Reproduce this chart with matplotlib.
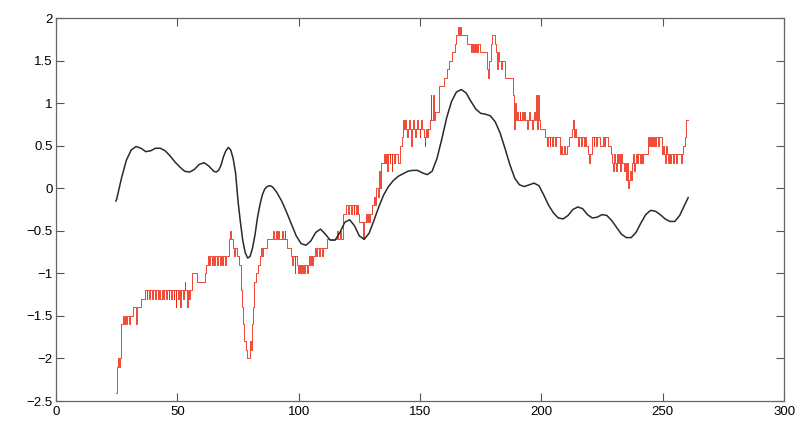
import numpy as np
import matplotlib
matplotlib.use("Agg")
import matplotlib.pyplot as plt
from matplotlib.ticker import FuncFormatter

plt.rcParams['font.family'] = ['Liberation Sans', 'DejaVu Sans']

# smooth (black) series: (x, y)
black_pts = [
    (24.7, -0.15), (25, -0.13), (27, 0.12), (29, 0.33), (31, 0.45), (33, 0.49), (35, 0.47),
    (37, 0.43), (39, 0.44), (41, 0.47), (43, 0.47), (45, 0.44), (47, 0.38), (49, 0.31),
    (51, 0.25), (53, 0.20), (55, 0.19), (57, 0.22), (59, 0.28), (61, 0.30), (63, 0.26),
    (65, 0.20), (66, 0.19), (67, 0.21), (68, 0.27), (69, 0.37), (70, 0.44), (71, 0.48),
    (72, 0.45), (73, 0.35), (74, 0.18), (75, -0.15), (76, -0.40), (77, -0.62), (78, -0.76),
    (79, -0.82), (80, -0.80), (81, -0.70), (82, -0.55), (83, -0.35), (84, -0.20), (85, -0.08),
    (86, -0.01), (87, 0.02), (88, 0.03), (89, 0.02), (90, -0.01), (91, -0.05), (93, -0.15),
    (95, -0.28), (97, -0.42), (99, -0.56), (101, -0.65), (103, -0.67), (105, -0.62),
    (107, -0.52), (109, -0.48), (111, -0.54), (113, -0.61), (115, -0.61), (117, -0.52),
    (119, -0.40), (121, -0.37), (123, -0.44), (125, -0.56), (127, -0.60), (129, -0.53),
    (131, -0.38), (133, -0.22), (135, -0.08), (137, 0.02), (139, 0.09), (141, 0.14),
    (143, 0.17), (145, 0.20), (147, 0.21), (149, 0.21), (151, 0.18), (153, 0.16), (155, 0.20),
    (157, 0.35), (159, 0.58), (161, 0.83), (163, 1.02), (165, 1.13), (167, 1.16), (169, 1.12),
    (171, 1.02), (173, 0.93), (175, 0.88), (177, 0.87), (179, 0.85), (181, 0.78), (183, 0.65),
    (185, 0.47), (187, 0.28), (189, 0.12), (191, 0.04), (193, 0.02), (195, 0.04), (197, 0.06),
    (199, 0.03), (201, -0.08), (203, -0.20), (205, -0.29), (207, -0.35), (209, -0.36),
    (211, -0.32), (213, -0.25), (215, -0.22), (217, -0.24), (219, -0.31), (221, -0.35),
    (223, -0.34), (225, -0.31), (227, -0.32), (229, -0.38), (231, -0.46), (233, -0.54),
    (235, -0.58), (237, -0.58), (239, -0.52), (241, -0.41), (243, -0.31), (245, -0.26),
    (247, -0.27), (249, -0.31), (251, -0.36), (253, -0.39), (255, -0.39), (257, -0.32),
    (259, -0.20), (260.5, -0.11),
]

# stepped (red) series: (start x, level in tenths)
red_steps = [
    (24.7, -24), (25.2, -21), (25.6, -20), (26.0, -21), (26.4, -20), (26.8, -16), (27.6, -15),
    (28.2, -16), (28.5, -15), (29.0, -16), (29.4, -15), (30.0, -16), (30.3, -15), (31.7, -14),
    (33.0, -16), (33.4, -14), (35.0, -13), (36.7, -12),
    (37.3, -13), (37.6, -12), (38.4, -13), (38.7, -12), (39.6, -13), (40.0, -12), (41.0, -13),
    (41.3, -12), (42.2, -13), (42.5, -12), (43.0, -13), (43.6, -12), (44.2, -13), (44.6, -12),
    (45.2, -13), (45.8, -12), (46.4, -13), (46.7, -12), (47.5, -13), (47.8, -12), (48.5, -13),
    (48.8, -12), (49.3, -14), (49.6, -12), (50.2, -13), (50.5, -12), (51.3, -14), (51.6, -12),
    (52.2, -13), (52.6, -12), (53.0, -11), (53.3, -12), (53.8, -13), (54.1, -14), (54.4, -12),
    (55.0, -13), (55.3, -12),
    (56.0, -10), (58.0, -11), (61.4, -10), (62.0, -9), (62.6, -8), (63.0, -9), (63.6, -8),
    (64.2, -9), (64.5, -8), (65.3, -9), (65.6, -8), (66.4, -9), (66.7, -8), (67.5, -9),
    (67.8, -8), (68.5, -9), (68.8, -8), (69.5, -9), (70.0, -8),
    (71.4, -6), (71.7, -5), (72.2, -6), (72.8, -7), (73.5, -8), (73.8, -7), (74.6, -8),
    (75.5, -9), (76.2, -12), (76.6, -14), (77.0, -16), (77.6, -18), (78.3, -19), (78.7, -20),
    (80.0, -18), (80.4, -19), (80.7, -16), (81.0, -14), (81.7, -11), (82.4, -10), (83.2, -9),
    (84.0, -8), (84.6, -7), (85.0, -8), (85.3, -7), (87.0, -6),
    (89.4, -5), (89.8, -6), (90.6, -5), (91.0, -6), (91.6, -5), (92.0, -6), (93.0, -5),
    (93.4, -6), (94.2, -5), (94.5, -6), (95.2, -7), (97.0, -8), (97.4, -9), (97.7, -8),
    (98.3, -10), (98.6, -8), (99.2, -9), (99.6, -10), (100.0, -9), (100.5, -10), (100.9, -9),
    (101.5, -10), (101.9, -9), (102.4, -10), (102.8, -9), (103.4, -10), (103.7, -9), (104.2, -8),
    (104.6, -9), (105.2, -8), (105.5, -9), (106.0, -8),
    (106.7, -7), (107.3, -8), (107.7, -7), (108.5, -8), (108.8, -7), (109.5, -8), (109.9, -7),
    (111.6, -6), (116.0, -5), (116.3, -6), (117.0, -5), (117.4, -6), (118.3, -3), (119.3, -2),
    (120.5, -3), (120.8, -2), (121.6, -3), (121.9, -2), (122.6, -3), (122.9, -2), (123.7, -3),
    (124.0, -2), (124.6, -3), (125.0, -4), (126.6, -6), (127.0, -4), (127.6, -3), (128.0, -4),
    (128.5, -3), (129.0, -4), (129.6, -3), (130.3, -2), (131.0, -1), (131.5, -2), (132.0, 0),
    (132.5, -1), (133.0, 2), (133.6, 0), (134.0, 3), (135.0, 4), (135.4, 3), (136.0, 4),
    (136.3, 2), (136.7, 4), (137.5, 3), (137.8, 4), (138.3, 2), (138.6, 4), (139.4, 3),
    (139.7, 4), (141.0, 3),
    (141.7, 5), (142.4, 6), (143.0, 8), (143.4, 7), (143.8, 8), (144.2, 7), (144.6, 6),
    (145.0, 7), (145.4, 8), (145.8, 7), (146.3, 5), (146.6, 7), (147.2, 8), (147.6, 7),
    (148.0, 6), (148.4, 7), (148.8, 8), (149.2, 7), (149.8, 6), (150.2, 7), (150.5, 8),
    (150.9, 7), (151.5, 6), (151.9, 5), (152.2, 6), (152.6, 7), (153.0, 6), (153.5, 7),
    (154.0, 8), (154.4, 11), (154.7, 8), (155.3, 11), (155.6, 8), (156.0, 9), (158.0, 12),
    (160.0, 13), (161.0, 14), (162.0, 15), (163.0, 16), (164.4, 17), (165.0, 18), (165.5, 19),
    (165.9, 18), (166.3, 19), (166.7, 18), (169.4, 17), (171.0, 16), (171.5, 17), (171.9, 16),
    (172.4, 17), (172.8, 16), (173.2, 17), (173.6, 16), (174.0, 17), (174.7, 16),
    (177.6, 14), (178.0, 13), (178.5, 15), (179.3, 17), (179.7, 18), (181.0, 17), (181.3, 16),
    (181.7, 14), (182.0, 16), (182.5, 15), (183.3, 14), (183.6, 15), (185.0, 13), (188.3, 11),
    (188.6, 7), (189.0, 10), (189.4, 8), (190.0, 9), (190.4, 8), (191.0, 9), (191.4, 8),
    (192.0, 9), (192.3, 8), (193.0, 9), (193.4, 8), (194.0, 7), (194.4, 8), (195.0, 9),
    (195.3, 8), (196.0, 7), (196.4, 8), (197.0, 9), (197.4, 8), (198.0, 11), (198.4, 7),
    (198.8, 11), (199.2, 8), (199.4, 7),
    (201.5, 6), (202.3, 5), (202.6, 6), (203.4, 5), (203.7, 6), (204.5, 5), (204.8, 6),
    (205.6, 5), (205.9, 6), (207.7, 4), (208.2, 5), (208.6, 4), (209.2, 5), (209.6, 4),
    (210.7, 5), (211.5, 6), (212.6, 7), (212.9, 8), (213.3, 6), (214.0, 7), (214.4, 6),
    (215.2, 5), (215.5, 6), (216.3, 5), (216.7, 6), (217.5, 5), (217.9, 6), (218.6, 5),
    (219.2, 4), (219.6, 3), (220.0, 4), (220.8, 6), (221.5, 5), (221.9, 6), (222.6, 5),
    (223.0, 6), (224.0, 5), (225.5, 6), (226.0, 5), (226.4, 6), (227.4, 5),
    (228.8, 4), (229.2, 3), (229.6, 2), (230.0, 4), (230.4, 3), (230.8, 2), (231.2, 4),
    (231.6, 3), (232.0, 4), (232.5, 2), (233.0, 4), (233.4, 3), (234.0, 2), (234.4, 3),
    (235.0, 1), (235.4, 3), (235.7, 0), (236.0, 1), (236.4, 2), (236.8, 1), (237.2, 3),
    (237.6, 4), (238.0, 2), (238.4, 3), (238.8, 4), (239.4, 3), (239.8, 4), (240.5, 3),
    (240.9, 4), (241.6, 3), (242.0, 4), (244.0, 6), (244.4, 5), (244.8, 6), (245.2, 5),
    (245.6, 6), (246.0, 5), (246.4, 6), (247.0, 5), (247.4, 6), (248.2, 5), (248.6, 6),
    (249.7, 4), (250.2, 5), (250.6, 4), (251.0, 3), (251.3, 5), (251.8, 4), (252.2, 3),
    (252.6, 4), (253.2, 3), (253.6, 4), (254.2, 3), (254.6, 4), (255.4, 3), (255.8, 4),
    (257.6, 3), (258.0, 4), (258.4, 5), (259.0, 6), (259.5, 7), (259.8, 8),
]
red_end = 260.3

xticks = [0, 50, 100, 150, 200, 250, 300]
yticks = [-2.5, -2, -1.5, -1, -0.5, 0, 0.5, 1, 1.5, 2]

black_x = [p[0] for p in black_pts]
black_y = [p[1] for p in black_pts]
red_x = [s[0] for s in red_steps] + [red_end]
red_y = [s[1] / 10 for s in red_steps]
red_y = red_y + [red_y[-1]]

fig = plt.figure(figsize=(8.01, 4.24), dpi=100)
ax = fig.add_axes([0.0699, 0.0542, 0.9089, 0.9033])

ax.step(red_x, red_y, where='post', color='#ee2a14', lw=0.6)
ax.plot(black_x, black_y, color='#2a2a2a', lw=1.1)

ax.set_xlim(0, 300)
ax.set_ylim(-2.5, 2)
ax.set_xticks(xticks)
ax.set_yticks(yticks)
ax.yaxis.set_major_formatter(FuncFormatter(lambda v, p: ('%g' % v).replace('-', '\u2212')))
ax.tick_params(direction='in', top=True, right=True, length=6, width=0.8,
               labelsize=9.5, color='#555555')
ax.tick_params(axis='y', pad=2.5)
ax.tick_params(axis='x', pad=3.5)
for sp in ax.spines.values():
    sp.set_color('#666666')
    sp.set_linewidth(0.9)

fig.savefig('out.png', dpi=100)
